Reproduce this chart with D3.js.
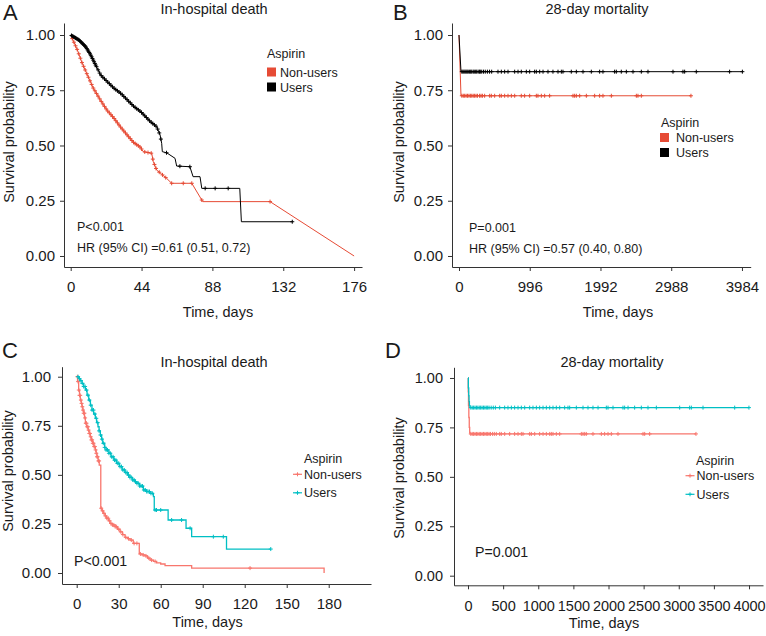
<!DOCTYPE html>
<html><head><meta charset="utf-8">
<script src="https://cdn.jsdelivr.net/npm/d3@7"></script>
<style>
body{margin:0;background:#fff}
svg{display:block}
text{font-family:"Liberation Sans",Arial,Helvetica,sans-serif;fill:#1a1a1a}
</style>
</head><body>
<script>
// ---------------- DATA ----------------
const groups = ["Non-users", "Users"];
const yTicks = [0, 0.25, 0.5, 0.75, 1];
const xTicksA = [0, 44, 88, 132, 176];
const xTicksB = [0, 996, 1992, 2988, 3984];
const xTicksC = [0, 30, 60, 90, 120, 150, 180];
const xTicksD = [0, 500, 1000, 1500, 2000, 2500, 3000, 3500, 4000];

// Panel A (in-hospital death), [time, survival]
const aNonUsers = [[0,1],[4,0.935],[7,0.875],[10,0.825],[14,0.76],[18.5,0.705],[22.5,0.66],[26.7,0.625],[30.8,0.585],[35,0.548],[39,0.514],[43.3,0.492],[45.1,0.472],[50.3,0.465],[51.3,0.427],[53.4,0.389],[59.6,0.351],[62.7,0.329],[75.2,0.329],[82,0.246],[123.8,0.246],[176,0]];
const aUsers = [[0,1],[5.2,0.977],[9.3,0.947],[12.4,0.91],[15.5,0.864],[18.6,0.819],[22.7,0.789],[26.9,0.759],[31.1,0.736],[35.2,0.706],[39.3,0.676],[43.5,0.653],[49.5,0.608],[53.4,0.585],[55.5,0.548],[56.5,0.51],[56.9,0.472],[59.6,0.467],[64.8,0.442],[65.8,0.407],[74,0.404],[76,0.359],[80.3,0.359],[81.4,0.306],[105,0.306],[106,0.155],[137.6,0.155]];
const aNonUsersCensor = [1,2,3,4,5,6,7,8,9,10,11,12,13,14,15,16,17,18,19,20,21,22,23,24,25,26,27,28,29,30,31,32,33,34,35,36,37,38,39,40,41,42,43,44,46,48,50,51,52,53,55,57,59,62.7,69.9,75.2,81.4,123.8];
const aUsersCensor = [0.5,1,1.5,2,2.5,3,3.5,4,4.5,5,5.5,6,6.5,7,7.5,8,8.5,9,9.5,10,10.5,11,11.5,12,12.5,13,13.5,14,14.5,15,15.5,16,17,18,19,20,21,22,23,24,25,26,27,28,29,30,31,32,33,34,35,36,37,38,39,40,41,42,43,44,45,46,47,48,49,50,51,52,53,54,55,56,59.5,67.8,74,83.5,89.7,97.8,137.6];

// Panel B (28-day mortality)
const bNonUsers = [[0,1],[28,0.725],[3266,0.725]];
const bUsers = [[0,1],[28,0.834],[3990,0.834]];
const bNonUsersCensor = [40,60,80,100,120,140,160,180,200,220,240,260,290,310,330,361,432,455,502,573,596,643,690,737,784,877,924,995,1089,1112,1159,1206,1276,1605,1628,1652,1699,1793,1910,1980,2027,2145,2497,2520,2567,3266];
const bUsersCensor = [40,55,70,85,100,115,130,150,165,180,200,215,235,250,270,290,300,320,345,370,400,430,460,549,596,643,690,784,831,877,948,995,1065,1089,1136,1183,1253,1323,1394,1441,1464,1581,1652,1746,1863,1980,2027,2191,2215,2285,2356,2450,2567,2661,3013,3153,3177,3341,3810,3990];

// Panel C (in-hospital death, matched)
const cNonUsers = [[0,1],[0.6,0.975],[1.4,0.932],[2,0.905],[2.6,0.881],[3.2,0.864],[3.8,0.847],[4.4,0.83],[5,0.814],[5.6,0.79],[6.2,0.763],[7.1,0.745],[8.1,0.728],[8.9,0.711],[9.7,0.694],[10.5,0.678],[11.4,0.661],[12.3,0.644],[13.3,0.627],[13.9,0.61],[14.5,0.592],[15.3,0.571],[16.1,0.55],[17.2,0.33],[18,0.317],[19,0.304],[20.2,0.291],[21.4,0.279],[22.6,0.266],[23.8,0.253],[25.5,0.245],[27.4,0.236],[29.1,0.223],[30.9,0.21],[32.7,0.196],[34.5,0.182],[36.3,0.175],[38.1,0.168],[40.4,0.151],[44.7,0.097],[46.7,0.092],[48.8,0.087],[50.6,0.076],[52.4,0.066],[54.8,0.059],[57.1,0.052],[60,0.046],[63.1,0.038],[82.1,0.025],[176.7,0.025],[176.7,0]];
const cUsers = [[0,1],[1.5,0.99],[2.5,0.98],[3.8,0.966],[5,0.95],[6.2,0.932],[7.4,0.906],[8.6,0.881],[9.8,0.855],[10.9,0.83],[12.1,0.81],[13.3,0.788],[14.2,0.766],[15.2,0.745],[16,0.724],[16.9,0.703],[17.8,0.682],[18.6,0.661],[20,0.64],[21,0.627],[23,0.61],[24.5,0.592],[26.5,0.575],[28.5,0.559],[30.5,0.542],[32.5,0.525],[34.5,0.512],[36.2,0.499],[38,0.487],[39.8,0.474],[41.5,0.465],[43,0.457],[45,0.443],[47.6,0.423],[50,0.415],[52.4,0.406],[54.8,0.389],[55.4,0.321],[65.3,0.27],[78.1,0.228],[82.1,0.185],[107,0.122],[138.6,0.122]];
const cNonUsersCensor = [0.5,1,1.5,2,2.5,3,3.5,4,4.5,5,5.5,6,6.5,7,7.5,8,8.5,9,9.5,10,10.5,11,11.5,12,12.5,13,13.5,14,14.5,15,15.5,16,17.5,18.5,19.5,20.5,21.5,22.5,23.5,24.5,25.5,26.5,27.5,28.5,30,31.5,33,35,37,39,41,43,45.5,47.5,49.5,51.5,53.5,56,123.8];
const cUsersCensor = [1,2,3,4,5,6,7,8,9,10,11,12,13,14,15,16,17,18,19,20,21,22,23,24,25,26,27,28,29,30,31,32,33,34,35,36,37,38,39,40,41,42,43,44,45,46,47,48,49,50,51,52,53,54,56,57,60,67.8,74.9,81,97.6,104.7,138.6];

// Panel D (28-day mortality, matched)
const dNonUsers = [[0,1],[3,0.93],[7,0.86],[12,0.8],[18,0.75],[24,0.725],[28,0.717],[3245,0.717]];
const dUsers = [[0,1],[5,0.95],[10,0.91],[15,0.88],[20,0.86],[28,0.85],[4000,0.85]];
const dNonUsersCensor = [40,60,80,100,120,140,160,180,200,220,240,260,280,300,320,350,375,403,451,474,522,593,664,712,759,783,878,902,949,1020,1068,1115,1163,1186,1210,1257,1305,1613,1637,1661,1684,1779,1898,1945,1993,2040,2135,2491,2515,2586,3245];
const dUsersCensor = [40,60,80,100,120,140,160,180,200,220,240,260,280,300,330,360,390,451,522,569,617,664,712,759,807,878,925,973,1020,1068,1115,1163,1210,1257,1305,1376,1423,1447,1542,1637,1708,1779,1851,1969,1993,2064,2206,2230,2278,2372,2467,2562,2681,3013,3155,3179,3345,3796,3999];

// ---------------- DRAW ----------------
const W = 766, H = 636;
const svg = d3.select("body").append("svg").attr("width", W).attr("height", H);
const FONT = '"Liberation Sans",Arial,Helvetica,sans-serif';

function survLinear(pts, t) {
  for (let i = 0; i < pts.length - 1; i++) {
    const [t0, s0] = pts[i], [t1, s1] = pts[i + 1];
    if (t >= t0 && t <= t1) return t1 === t0 ? s1 : s0 + (s1 - s0) * (t - t0) / (t1 - t0);
  }
  return pts[pts.length - 1][1];
}
function survStep(pts, t) {
  let s = pts[0][1];
  for (const p of pts) { if (p[0] <= t) s = p[1]; else break; }
  return s;
}

function plus(g, cx, cy, color, arm, sw) {
  g.append("path").attr("d", `M${cx - arm},${cy}H${cx + arm}M${cx},${cy - arm}V${cy + arm}`)
    .attr("stroke", color).attr("stroke-width", sw).attr("fill", "none");
}

function drawPanel(cfg) {
  const g = svg.append("g");
  const x = d3.scaleLinear().domain(cfg.xDomain).range(cfg.xRange);
  const y = d3.scaleLinear().domain(cfg.yDomain).range(cfg.yRange);

  // axes
  const xa = g.append("g").attr("transform", `translate(0,${cfg.yRange[0]})`)
    .call(d3.axisBottom(x).tickValues(cfg.xTicks).tickSize(4).tickSizeOuter(0).tickPadding(cfg.xPad).tickFormat(d3.format("d")));
  const ya = g.append("g").attr("transform", `translate(${cfg.xRange[0]},0)`)
    .call(d3.axisLeft(y).tickValues(yTicks).tickSize(4).tickSizeOuter(0).tickPadding(cfg.yPad).tickFormat(d3.format(".2f")));
  [xa, ya].forEach(a => {
    a.selectAll("path.domain").attr("stroke", "#333").attr("stroke-width", 1);
    a.selectAll(".tick line").attr("stroke", "#333");
    a.selectAll(".tick text").attr("font-family", FONT).attr("font-size", cfg.tickFont).attr("fill", "#1a1a1a");
  });

  // curves
  const line = d3.line().x(d => x(d[0])).y(d => y(d[1])).curve(cfg.step ? d3.curveStepAfter : d3.curveLinear);
  const surv = cfg.step ? survStep : survLinear;
  cfg.series.forEach(sr => {
    g.append("path").datum(sr.pts).attr("d", line).attr("fill", "none")
      .attr("stroke", sr.color).attr("stroke-width", cfg.lw).attr("stroke-linejoin", "miter");
    sr.censor.forEach(t => plus(g, x(t), y(surv(sr.pts, t)), sr.color, cfg.arm, cfg.msw));
  });

  // texts
  g.append("text").attr("x", cfg.letter[0]).attr("y", cfg.letter[1]).attr("font-size", 22).text(cfg.letterText);
  g.append("text").attr("x", cfg.title[0]).attr("y", cfg.title[1]).attr("font-size", 14.5).attr("text-anchor", "middle").text(cfg.titleText);
  g.append("text").attr("x", cfg.xlab[0]).attr("y", cfg.xlab[1]).attr("font-size", 14.5).attr("text-anchor", "middle").text("Time, days");
  g.append("text").attr("transform", `translate(${cfg.ylab[0]},${cfg.ylab[1]}) rotate(-90)`).attr("font-size", 14.5).attr("text-anchor", "middle").text("Survival probability");
  cfg.notes.forEach(n => g.append("text").attr("x", n[0]).attr("y", n[1]).attr("font-size", n[3]).text(n[2]));

  // legend
  const L = cfg.legend;
  g.append("text").attr("x", L.x).attr("y", L.y).attr("font-size", 12.5).text("Aspirin");
  cfg.series.forEach((sr, i) => {
    const ky = L.y + L.first + i * L.gap;
    if (L.square) {
      g.append("rect").attr("x", L.kx).attr("y", ky - 4.5).attr("width", 9).attr("height", 9).attr("fill", sr.color);
    } else {
      g.append("line").attr("x1", L.kx).attr("x2", L.kx + 9).attr("y1", ky).attr("y2", ky).attr("stroke", sr.color).attr("stroke-width", 1.2);
      plus(g, L.kx + 4.5, ky, sr.color, 2, 1);
    }
    g.append("text").attr("x", L.tx).attr("y", ky + 4.5).attr("font-size", 12.5).text(groups[i]);
  });
}

const RED = "#E64B35", BLACK = "#000000", SALMON = "#F8766D", TEAL = "#00BFC4";

drawPanel({
  xDomain: [-4.16, 180.9], xRange: [64, 362], yDomain: [-0.0498, 1.0543], yRange: [267, 23],
  xTicks: xTicksA, xPad: 10.5, yPad: 5, tickFont: 15, step: false, lw: 1, arm: 2, msw: 1,
  series: [{pts: aNonUsers, censor: aNonUsersCensor, color: RED}, {pts: aUsers, censor: aUsersCensor, color: BLACK}],
  letter: [3, 20], letterText: "A", title: [214, 14], titleText: "In-hospital death",
  xlab: [218, 317], ylab: [14, 142],
  notes: [[77, 231, "P<0.001", 12.5], [77, 251.5, "HR (95% CI) =0.61 (0.51, 0.72)", 12.5]],
  legend: {x: 267, y: 58, first: 14, gap: 15, square: true, kx: 267, tx: 280}
});
drawPanel({
  xDomain: [-98.5, 4107], xRange: [452, 750.7], yDomain: [-0.0498, 1.0543], yRange: [267, 23],
  xTicks: xTicksB, xPad: 10.5, yPad: 5, tickFont: 15, step: false, lw: 1, arm: 2, msw: 1,
  series: [{pts: bNonUsers, censor: bNonUsersCensor, color: RED}, {pts: bUsers, censor: bUsersCensor, color: BLACK}],
  letter: [393, 20], letterText: "B", title: [597, 14], titleText: "28-day mortality",
  xlab: [618, 317], ylab: [403.5, 142],
  notes: [[469, 231.5, "P=0.001", 12.5], [469, 253, "HR (95% CI) =0.57 (0.40, 0.80)", 12.5]],
  legend: {x: 661, y: 127, first: 10.5, gap: 15, square: true, kx: 660, tx: 676}
});
drawPanel({
  xDomain: [-10.5, 210.2], xRange: [62, 371], yDomain: [-0.056, 1.051], yRange: [584, 366.7],
  xTicks: xTicksC, xPad: 10, yPad: 7, tickFont: 15, step: true, lw: 1.3, arm: 2, msw: 1,
  series: [{pts: cNonUsers, censor: cNonUsersCensor, color: SALMON}, {pts: cUsers, censor: cUsersCensor, color: TEAL}],
  letter: [2, 358], letterText: "C", title: [214, 367], titleText: "In-hospital death",
  xlab: [207.5, 627], ylab: [13, 471],
  notes: [[74, 566, "P<0.001", 14.2]],
  legend: {x: 304, y: 463, first: 11.3, gap: 18.5, square: false, kx: 293, tx: 304}
});
drawPanel({
  xDomain: [-199.3, 4199], xRange: [454, 763], yDomain: [-0.0486, 1.054], yRange: [585.3, 367.3],
  xTicks: xTicksD, xPad: 11, yPad: 7, tickFont: 14.5, step: true, lw: 1.3, arm: 2, msw: 1,
  series: [{pts: dNonUsers, censor: dNonUsersCensor, color: SALMON}, {pts: dUsers, censor: dUsersCensor, color: TEAL}],
  letter: [385, 358], letterText: "D", title: [612, 367], titleText: "28-day mortality",
  xlab: [604, 628], ylab: [404, 478],
  notes: [[475, 557, "P=0.001", 14.2]],
  legend: {x: 696, y: 465, first: 10.7, gap: 18.6, square: false, kx: 685.5, tx: 696.5}
});
</script>
</body></html>
